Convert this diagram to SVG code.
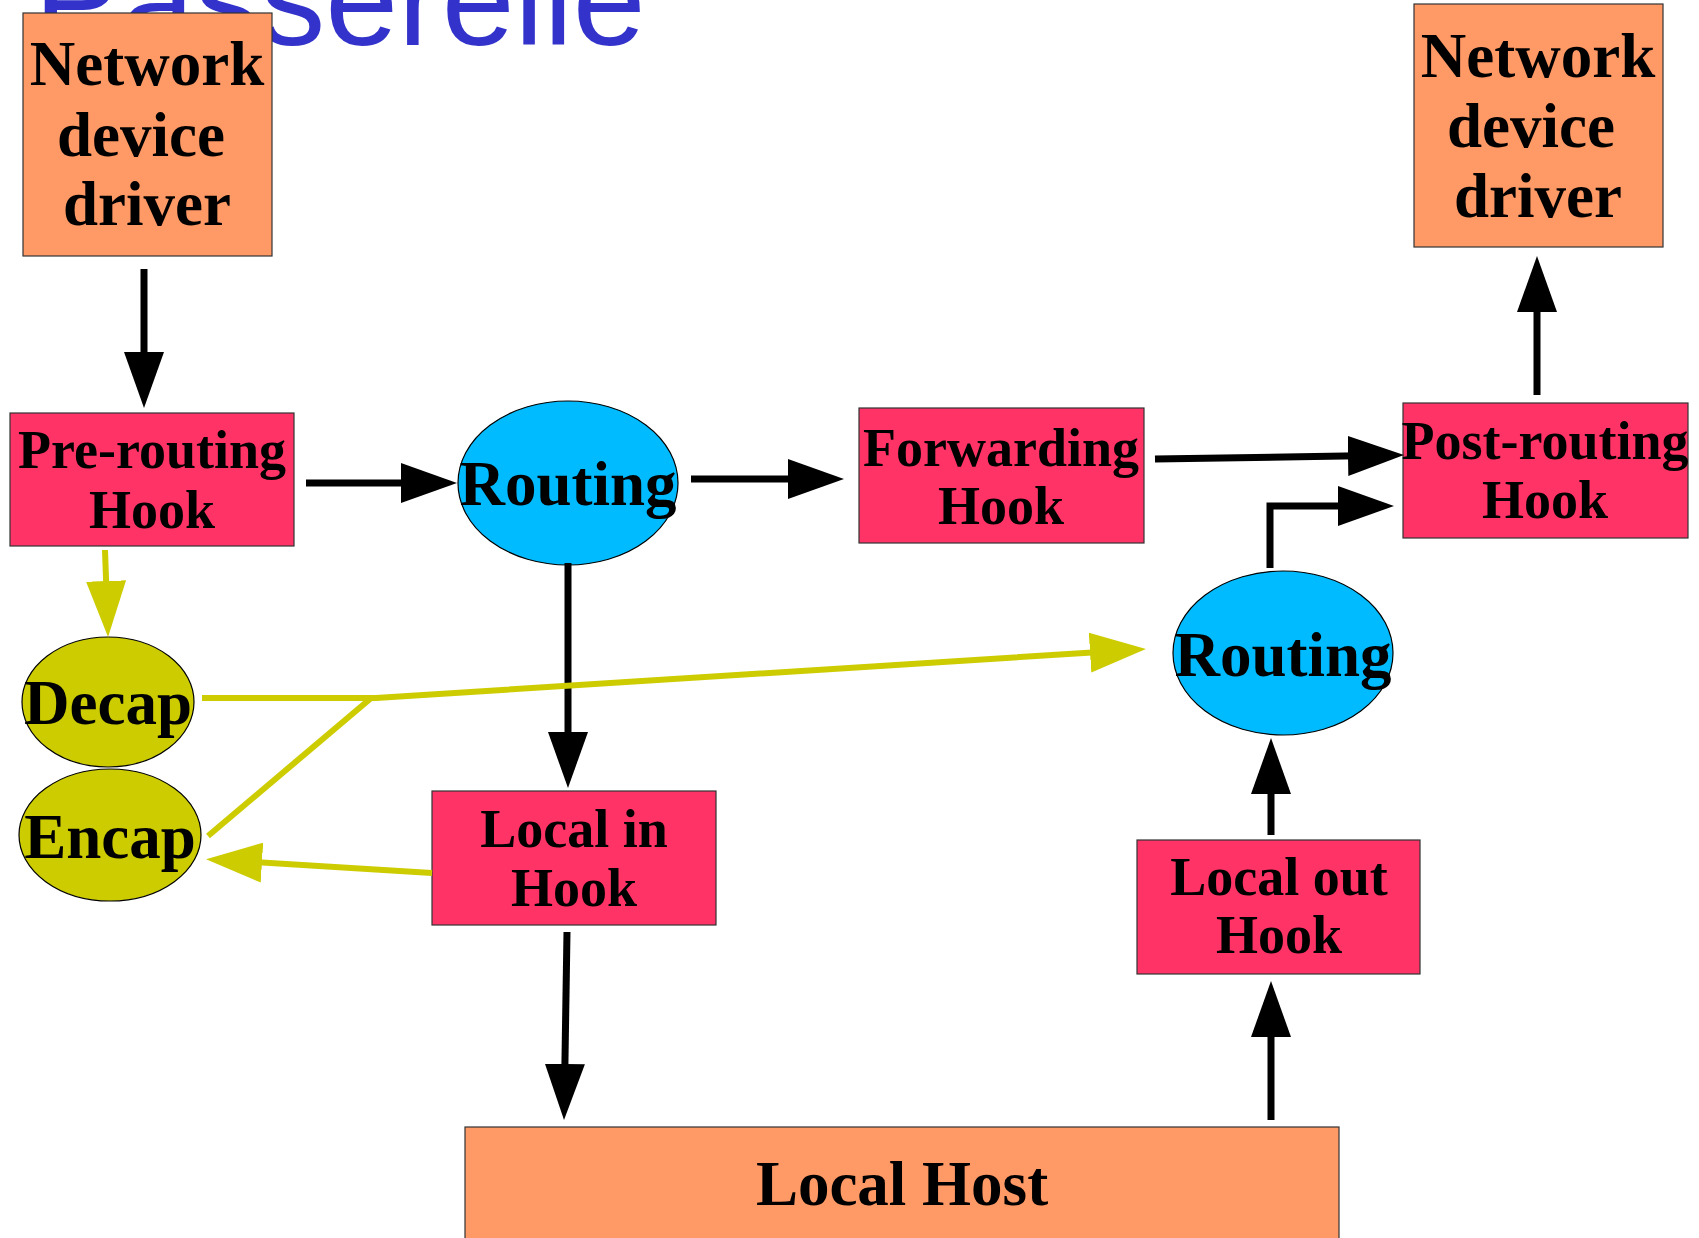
<svg xmlns="http://www.w3.org/2000/svg" width="1699" height="1238" viewBox="0 0 1699 1238">
  <style>
    .title { font-family: "Liberation Sans", Arial, sans-serif; font-size: 131px; fill: #3333cc; }
    .lbl { font-family: "Liberation Serif", "Times New Roman", serif; font-weight: bold; fill: #000; text-anchor: middle; }
    .big { font-size: 63px; }
    .hook { font-size: 54px; }
    .node-orange { fill: #ff9966; stroke: #333; stroke-width: 1.2; }
    .node-pink { fill: #ff3366; stroke: #333; stroke-width: 1.2; }
    .node-cyan { fill: #00bbff; stroke: #000; stroke-width: 1.2; }
    .node-olive { fill: #cccc00; stroke: #000; stroke-width: 1.2; }
    .black { fill: none; stroke: #000; stroke-width: 7; }
    .yellow { fill: none; stroke: #cccc00; stroke-width: 6; }
  </style>
  <defs>
    <marker id="ah-black" markerUnits="userSpaceOnUse" markerWidth="56" markerHeight="40" refX="26" refY="20" orient="auto" viewBox="0 0 56 40">
      <path d="M0,0 L56,20 L0,40 Z" fill="#000"/>
    </marker>
    <marker id="ah-yellow" markerUnits="userSpaceOnUse" markerWidth="56" markerHeight="40" refX="26" refY="20" orient="auto" viewBox="0 0 56 40">
      <path d="M0,0 L56,20 L0,40 Z" fill="#cccc00"/>
    </marker>
  </defs>

  <text class="title" x="34" y="45">Passerelle</text>

  <g id="ndd-in">
    <rect class="node-orange" x="23" y="13" width="249" height="243"/>
    <text class="lbl big" x="147" y="85">Network</text>
    <text class="lbl big" x="141" y="156">device</text>
    <text class="lbl big" x="147" y="225">driver</text>
  </g>

  <g id="ndd-out">
    <rect class="node-orange" x="1414" y="4" width="249" height="243"/>
    <text class="lbl big" x="1538" y="77">Network</text>
    <text class="lbl big" x="1531" y="147">device</text>
    <text class="lbl big" x="1538" y="217">driver</text>
  </g>

  <g id="pre-routing">
    <rect class="node-pink" x="10" y="413" width="284" height="133"/>
    <text class="lbl hook" x="152" y="468">Pre-routing</text>
    <text class="lbl hook" x="152" y="528">Hook</text>
  </g>

  <g id="routing1">
    <ellipse class="node-cyan" cx="568" cy="483" rx="110" ry="82"/>
    <text class="lbl big" x="568" y="505">Routing</text>
  </g>

  <g id="forwarding">
    <rect class="node-pink" x="859" y="408" width="285" height="135"/>
    <text class="lbl hook" x="1001" y="466">Forwarding</text>
    <text class="lbl hook" x="1001" y="524">Hook</text>
  </g>

  <g id="post-routing">
    <rect class="node-pink" x="1403" y="403" width="285" height="135"/>
    <text class="lbl hook" x="1545" y="459">Post-routing</text>
    <text class="lbl hook" x="1545" y="518">Hook</text>
  </g>

  <g id="routing2">
    <ellipse class="node-cyan" cx="1283" cy="653" rx="110" ry="82"/>
    <text class="lbl big" x="1283" y="676">Routing</text>
  </g>

  <g id="local-in">
    <rect class="node-pink" x="432" y="791" width="284" height="134"/>
    <text class="lbl hook" x="574" y="847">Local in</text>
    <text class="lbl hook" x="574" y="906">Hook</text>
  </g>

  <g id="local-out">
    <rect class="node-pink" x="1137" y="840" width="283" height="134"/>
    <text class="lbl hook" x="1279" y="895">Local out</text>
    <text class="lbl hook" x="1279" y="953">Hook</text>
  </g>

  <g id="local-host">
    <rect class="node-orange" x="465" y="1127" width="874" height="130"/>
    <text class="lbl big" x="902" y="1205">Local Host</text>
  </g>

  <g id="decap">
    <ellipse class="node-olive" cx="108" cy="702" rx="86" ry="65"/>
    <text class="lbl big" x="108" y="724">Decap</text>
  </g>

  <g id="encap">
    <ellipse class="node-olive" cx="110" cy="835" rx="91" ry="66"/>
    <text class="lbl big" x="110" y="858">Encap</text>
  </g>

  <g id="connectors">
    <line class="black" x1="144" y1="269" x2="144" y2="378" marker-end="url(#ah-black)"/>
    <line class="black" x1="306" y1="483" x2="427" y2="483" marker-end="url(#ah-black)"/>
    <line class="black" x1="691" y1="479" x2="814" y2="479" marker-end="url(#ah-black)"/>
    <line class="black" x1="1155" y1="459" x2="1374" y2="455.5" marker-end="url(#ah-black)"/>
    <line class="black" x1="1537" y1="395" x2="1537" y2="286" marker-end="url(#ah-black)"/>
    <polyline class="black" points="1270,568 1270,506 1364,506" marker-end="url(#ah-black)"/>
    <line class="black" x1="1271" y1="835" x2="1271" y2="768" marker-end="url(#ah-black)"/>
    <line class="black" x1="1271" y1="1120" x2="1271" y2="1011" marker-end="url(#ah-black)"/>
    <line class="black" x1="568" y1="563" x2="568" y2="758" marker-end="url(#ah-black)"/>
    <line class="black" x1="567" y1="932" x2="564.5" y2="1090" marker-end="url(#ah-black)"/>

    <line class="yellow" x1="105" y1="550" x2="107" y2="607" marker-end="url(#ah-yellow)"/>
    <polyline class="yellow" points="202,698 376,698 1116,651" marker-end="url(#ah-yellow)"/>
    <line class="yellow" x1="208" y1="836" x2="370" y2="699"/>
    <line class="yellow" x1="432" y1="873" x2="236" y2="861" marker-end="url(#ah-yellow)"/>
  </g>
</svg>
